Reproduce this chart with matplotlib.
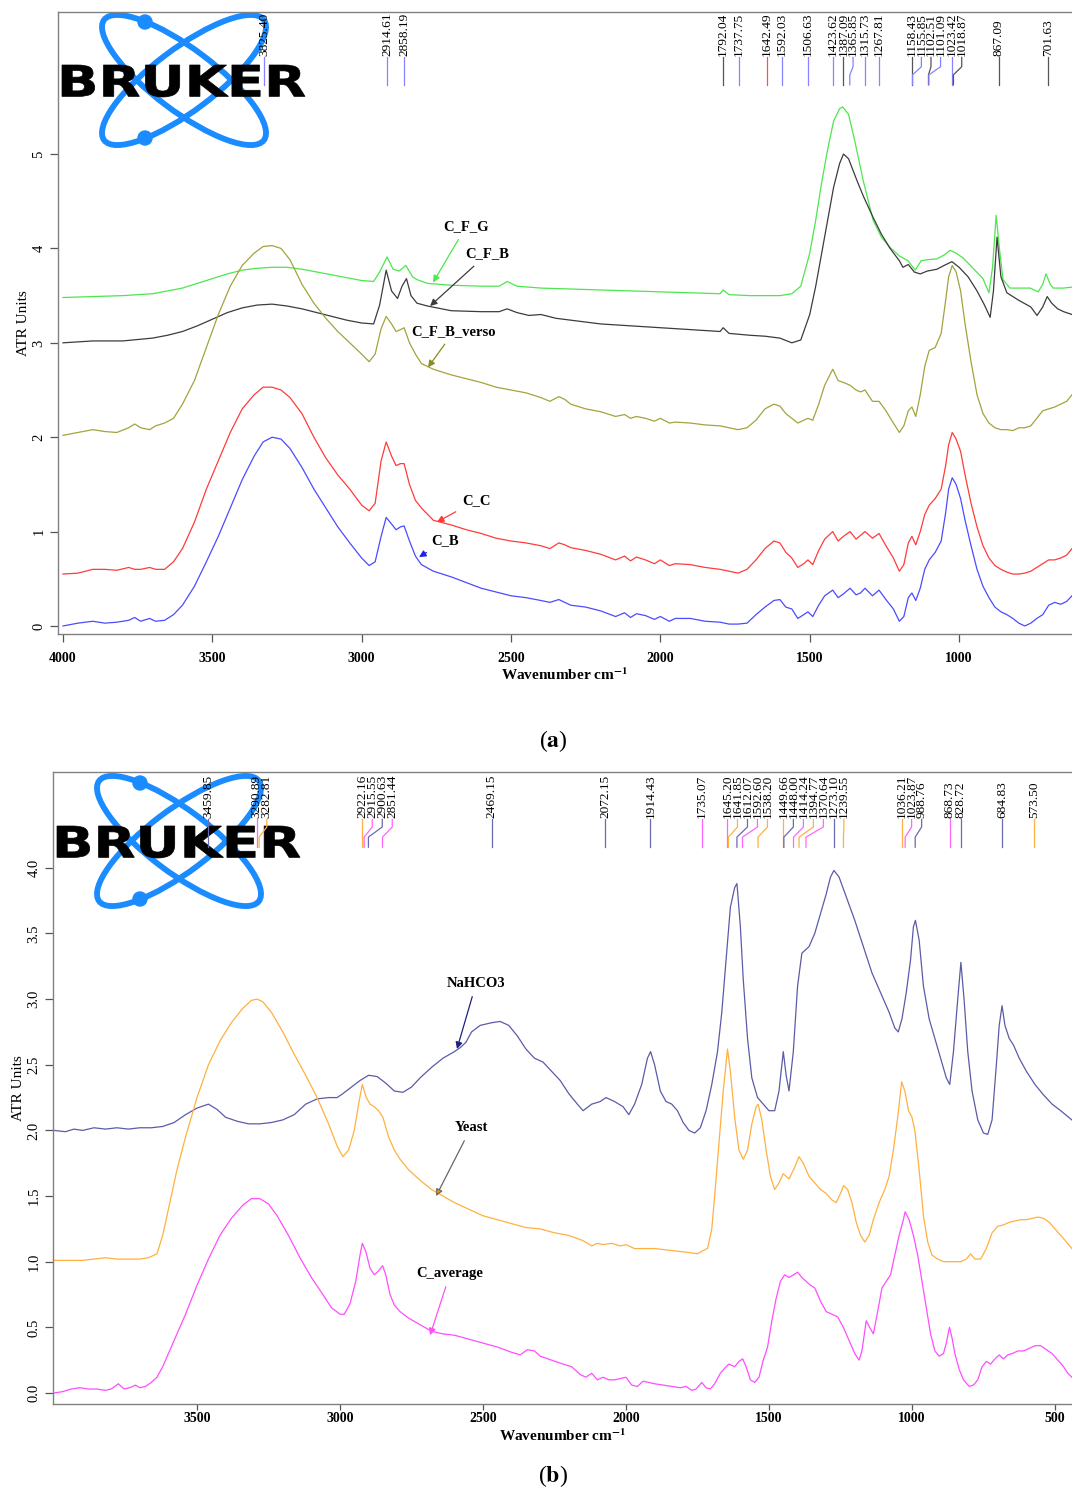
import numpy as np
import matplotlib
matplotlib.use("Agg")
import matplotlib.pyplot as plt
import matplotlib.transforms as mtransforms
from matplotlib.patches import Ellipse, Circle, PathPatch
from matplotlib.textpath import TextPath
from matplotlib.font_manager import FontProperties

plt.rcParams['font.family'] = ['Liberation Serif', 'DejaVu Serif']
plt.rcParams['mathtext.fontset'] = 'stix'

# ---------------- DATA : panel (a) ----------------
cb_w = [4000, 3950, 3900, 3860, 3820, 3780, 3760, 3740, 3710, 3690, 3660, 3630, 3600, 3560, 3520, 3480, 3440, 3400, 3360, 3330, 3300, 3270, 3240, 3200, 3160, 3120, 3080, 3040, 3000, 2975, 2955, 2935, 2918, 2900, 2885, 2870, 2858, 2840, 2820, 2800, 2760, 2700, 2650, 2600, 2550, 2500, 2450, 2400, 2370, 2340, 2320, 2300, 2250, 2200, 2150, 2120, 2100, 2080, 2050, 2020, 2000, 1970, 1950, 1900, 1850, 1800, 1770, 1740, 1710, 1680, 1650, 1620, 1600, 1580, 1560, 1540, 1520, 1506, 1490, 1470, 1450, 1423, 1405, 1387, 1365, 1345, 1330, 1315, 1290, 1268, 1245, 1220, 1200, 1185, 1170, 1158, 1145, 1130, 1115, 1100, 1080, 1060, 1045, 1035, 1023, 1010, 995, 980, 960, 940, 920, 900, 880, 860, 840, 820, 800, 780, 760, 740, 720, 700, 680, 660, 640, 622]
cb_v = [0.0, 0.03, 0.05, 0.03, 0.04, 0.06, 0.09, 0.05, 0.08, 0.05, 0.06, 0.12, 0.22, 0.42, 0.68, 0.95, 1.25, 1.55, 1.8, 1.95, 2.0, 1.98, 1.88, 1.68, 1.45, 1.25, 1.05, 0.88, 0.72, 0.64, 0.68, 0.95, 1.15, 1.08, 1.02, 1.05, 1.06, 0.9, 0.74, 0.65, 0.58, 0.52, 0.46, 0.4, 0.36, 0.32, 0.3, 0.27, 0.25, 0.28, 0.25, 0.22, 0.2, 0.16, 0.1, 0.14, 0.09, 0.13, 0.11, 0.07, 0.1, 0.05, 0.08, 0.08, 0.05, 0.04, 0.02, 0.02, 0.03, 0.12, 0.2, 0.27, 0.28, 0.2, 0.18, 0.08, 0.12, 0.15, 0.1, 0.22, 0.32, 0.38, 0.3, 0.34, 0.4, 0.33, 0.35, 0.4, 0.32, 0.38, 0.28, 0.18, 0.05, 0.1, 0.3, 0.35, 0.27, 0.4, 0.6, 0.7, 0.78, 0.9, 1.2, 1.45, 1.57, 1.5, 1.35, 1.12, 0.85, 0.6, 0.42, 0.3, 0.2, 0.15, 0.12, 0.08, 0.03, 0.0, 0.03, 0.08, 0.12, 0.22, 0.25, 0.23, 0.26, 0.32]

cc_w = cb_w
cc_v = [0.55, 0.56, 0.6, 0.6, 0.59, 0.62, 0.6, 0.6, 0.62, 0.6, 0.6, 0.68, 0.82, 1.1, 1.45, 1.75, 2.05, 2.3, 2.45, 2.53, 2.53, 2.5, 2.42, 2.25, 2.0, 1.78, 1.6, 1.45, 1.28, 1.22, 1.3, 1.75, 1.95, 1.8, 1.7, 1.72, 1.72, 1.5, 1.33, 1.25, 1.12, 1.07, 1.02, 0.98, 0.93, 0.9, 0.88, 0.85, 0.82, 0.88, 0.86, 0.83, 0.8, 0.76, 0.7, 0.74, 0.69, 0.73, 0.7, 0.66, 0.7, 0.64, 0.66, 0.65, 0.62, 0.6, 0.58, 0.56, 0.6, 0.7, 0.82, 0.9, 0.88, 0.78, 0.72, 0.62, 0.66, 0.7, 0.65, 0.8, 0.92, 1.0, 0.9, 0.95, 1.0, 0.92, 0.96, 1.0, 0.93, 0.98, 0.85, 0.72, 0.58, 0.65, 0.88, 0.95, 0.86, 1.0, 1.18, 1.28, 1.35, 1.45, 1.7, 1.92, 2.05, 1.98, 1.85, 1.6, 1.3, 1.05, 0.85, 0.72, 0.64, 0.6, 0.57, 0.55, 0.55, 0.56, 0.58, 0.62, 0.66, 0.7, 0.7, 0.72, 0.75, 0.82]

cfbv_w = cb_w
cfbv_v = [2.02, 2.05, 2.08, 2.06, 2.05, 2.1, 2.14, 2.1, 2.08, 2.12, 2.15, 2.2, 2.35, 2.6, 2.95, 3.3, 3.6, 3.82, 3.95, 4.02, 4.03, 4.0, 3.88, 3.62, 3.42, 3.26, 3.12, 3.0, 2.88, 2.8, 2.88, 3.15, 3.28, 3.2, 3.12, 3.14, 3.16, 3.0, 2.88, 2.78, 2.72, 2.66, 2.62, 2.58, 2.53, 2.5, 2.47, 2.42, 2.38, 2.43, 2.4, 2.35, 2.3, 2.27, 2.22, 2.24, 2.2, 2.22, 2.2, 2.17, 2.2, 2.15, 2.16, 2.15, 2.13, 2.12, 2.1, 2.08, 2.1, 2.18, 2.3, 2.35, 2.33, 2.25, 2.2, 2.15, 2.18, 2.2, 2.18, 2.35, 2.55, 2.72, 2.6, 2.58, 2.55, 2.5, 2.48, 2.5, 2.38, 2.38, 2.28, 2.15, 2.05, 2.12, 2.28, 2.32, 2.22, 2.45, 2.75, 2.92, 2.95, 3.1, 3.45, 3.7, 3.82, 3.75, 3.55, 3.2, 2.8, 2.45, 2.25, 2.15, 2.1, 2.08, 2.08, 2.07, 2.1, 2.1, 2.12, 2.2, 2.28, 2.3, 2.32, 2.35, 2.38, 2.45]

cfb_w = [4000, 3900, 3800, 3700, 3650, 3600, 3550, 3500, 3450, 3400, 3350, 3300, 3250, 3200, 3150, 3100, 3050, 3000, 2960, 2940, 2918, 2900, 2880, 2865, 2850, 2835, 2815, 2780, 2700, 2600, 2540, 2513, 2480, 2440, 2400, 2350, 2300, 2250, 2200, 2100, 2000, 1900, 1800, 1790, 1770, 1700, 1650, 1600, 1560, 1530, 1500, 1480, 1460, 1440, 1420, 1400, 1387, 1370, 1342, 1320, 1288, 1260, 1231, 1200, 1188, 1170, 1150, 1130, 1107, 1074, 1050, 1024, 1000, 970, 940, 915, 896, 885, 873, 860, 840, 800, 760, 739, 720, 705, 690, 670, 650, 622]
cfb_v = [3.0, 3.02, 3.02, 3.05, 3.08, 3.12, 3.18, 3.25, 3.32, 3.37, 3.4, 3.41, 3.39, 3.36, 3.32, 3.28, 3.24, 3.21, 3.2, 3.4, 3.77, 3.55, 3.47, 3.6, 3.68, 3.5, 3.42, 3.39, 3.34, 3.33, 3.33, 3.36, 3.32, 3.29, 3.3, 3.26, 3.24, 3.22, 3.2, 3.18, 3.16, 3.14, 3.12, 3.16, 3.1, 3.08, 3.07, 3.05, 3.0, 3.03, 3.3, 3.6, 3.95, 4.3, 4.65, 4.9, 5.0, 4.95, 4.72, 4.55, 4.33, 4.15, 4.0, 3.87, 3.8, 3.83, 3.75, 3.73, 3.76, 3.78, 3.82, 3.86, 3.8, 3.7, 3.55, 3.4, 3.27, 3.55, 4.12, 3.7, 3.53, 3.45, 3.38, 3.29, 3.38, 3.49, 3.42, 3.36, 3.33, 3.3]

cfg_w = [4000, 3900, 3800, 3700, 3650, 3600, 3550, 3500, 3450, 3400, 3350, 3300, 3250, 3200, 3150, 3100, 3050, 3000, 2960, 2940, 2915, 2895, 2875, 2852, 2830, 2815, 2780, 2700, 2600, 2540, 2513, 2480, 2400, 2300, 2200, 2100, 2000, 1900, 1800, 1790, 1770, 1700, 1650, 1600, 1560, 1530, 1500, 1480, 1460, 1440, 1420, 1400, 1390, 1370, 1350, 1321, 1288, 1260, 1231, 1200, 1171, 1147, 1127, 1107, 1074, 1050, 1030, 1010, 987, 950, 920, 900, 888, 876, 865, 853, 830, 800, 762, 735, 720, 709, 695, 685, 650, 622]
cfg_v = [3.48, 3.49, 3.5, 3.52, 3.55, 3.58, 3.63, 3.68, 3.73, 3.77, 3.79, 3.8, 3.8, 3.78, 3.75, 3.72, 3.69, 3.66, 3.65, 3.75, 3.91, 3.78, 3.76, 3.82, 3.7, 3.67, 3.63, 3.61, 3.6, 3.6, 3.65, 3.6, 3.58, 3.57, 3.56, 3.55, 3.54, 3.53, 3.52, 3.56, 3.51, 3.5, 3.5, 3.5, 3.52, 3.6, 3.95, 4.3, 4.7, 5.05, 5.35, 5.48, 5.5, 5.42, 5.15, 4.72, 4.3, 4.12, 4.01, 3.92, 3.87, 3.77, 3.87, 3.88, 3.89, 3.93, 3.98, 3.95, 3.9, 3.78, 3.68, 3.53, 3.8, 4.35, 4.0, 3.67, 3.58, 3.58, 3.58, 3.54, 3.62, 3.73, 3.62, 3.58, 3.58, 3.59]

# peaks picked in panel (a): position, printed label, and the series each belongs to
pa_peaks = [3325.40, 2914.61, 2858.19, 1792.04, 1737.75, 1642.49, 1592.03, 1506.63, 1423.62, 1387.09, 1365.85, 1315.73, 1267.81, 1158.43, 1155.85, 1102.51, 1101.09, 1023.42, 1018.87, 867.09, 701.63]
pa_peak_labels = ['3825.40', '2914.61', '2858.19', '1792.04', '1737.75', '1642.49', '1592.03', '1506.63', '1423.62', '1387.09', '1365.85', '1315.73', '1267.81', '1158.43', '1155.85', '1102.51', '1101.09', '1023.42', '1018.87', '867.09', '701.63']
pa_peak_series = ['C_B', 'C_B', 'C_B', 'C_F_B', 'C_B', 'C_C', 'C_B', 'C_B', 'C_B', 'C_F_B', 'C_B', 'C_B', 'C_B', 'C_F_B', 'C_B', 'C_F_B', 'C_B', 'C_B', 'C_F_B', 'C_F_B', 'C_F_B']

# ---------------- DATA : panel (b) ----------------
na_w = [4000, 3960, 3930, 3900, 3860, 3820, 3780, 3740, 3700, 3660, 3620, 3580, 3540, 3500, 3460, 3430, 3400, 3360, 3320, 3280, 3240, 3200, 3160, 3120, 3080, 3040, 3010, 2990, 2960, 2930, 2900, 2870, 2840, 2810, 2780, 2750, 2720, 2680, 2640, 2600, 2580, 2560, 2540, 2510, 2470, 2440, 2410, 2380, 2350, 2320, 2290, 2260, 2230, 2200, 2170, 2150, 2120, 2090, 2070, 2040, 2010, 1990, 1970, 1945, 1925, 1914, 1900, 1880, 1860, 1840, 1820, 1800, 1780, 1760, 1740, 1720, 1700, 1680, 1665, 1650, 1635, 1620, 1612, 1600, 1590, 1575, 1560, 1540, 1520, 1500, 1480, 1465, 1450, 1440, 1430, 1415, 1400, 1385, 1360, 1340, 1320, 1300, 1285, 1273, 1255, 1230, 1200, 1170, 1140, 1110, 1080, 1060, 1048, 1035, 1020, 1005, 995, 988, 975, 960, 940, 920, 900, 880, 868, 855, 840, 829, 818, 805, 790, 770, 750, 735, 720, 705, 695, 685, 675, 660, 645, 625, 600, 570, 540, 510, 480, 441]
na_v = [2.0, 1.99, 2.01, 2.0, 2.02, 2.01, 2.02, 2.01, 2.02, 2.02, 2.03, 2.06, 2.12, 2.17, 2.2, 2.16, 2.1, 2.07, 2.05, 2.05, 2.06, 2.08, 2.12, 2.2, 2.24, 2.25, 2.25, 2.28, 2.33, 2.38, 2.42, 2.41, 2.36, 2.3, 2.29, 2.33, 2.4, 2.48, 2.55, 2.6, 2.63, 2.67, 2.75, 2.8, 2.82, 2.83, 2.8, 2.72, 2.62, 2.55, 2.52, 2.45, 2.38, 2.28, 2.2, 2.15, 2.2, 2.22, 2.25, 2.22, 2.18, 2.12, 2.2, 2.35, 2.55, 2.6, 2.5, 2.3, 2.22, 2.2, 2.15, 2.06, 2.0, 1.98, 2.02, 2.15, 2.35, 2.6, 2.9, 3.3, 3.7, 3.85, 3.88, 3.55, 3.15, 2.7, 2.4, 2.25, 2.2, 2.15, 2.15, 2.3, 2.6, 2.42, 2.3, 2.6, 3.1, 3.35, 3.4, 3.5, 3.65, 3.8, 3.93, 3.98, 3.93, 3.78, 3.6, 3.4, 3.2, 3.05, 2.9, 2.78, 2.75, 2.85, 3.05, 3.3, 3.55, 3.6, 3.45, 3.1, 2.85, 2.7, 2.55, 2.4, 2.35, 2.6, 3.0, 3.28, 3.0, 2.6, 2.3, 2.08, 1.98, 1.97, 2.08, 2.5, 2.8, 2.95, 2.8, 2.7, 2.65, 2.55, 2.45, 2.35, 2.27, 2.2, 2.15, 2.08]

ye_w = [4000, 3950, 3900, 3860, 3820, 3780, 3740, 3700, 3670, 3640, 3620, 3600, 3570, 3540, 3500, 3460, 3420, 3380, 3340, 3310, 3290, 3270, 3240, 3200, 3160, 3120, 3080, 3040, 3010, 2990, 2970, 2950, 2935, 2922, 2908, 2895, 2880, 2865, 2850, 2830, 2810, 2790, 2760, 2720, 2680, 2640, 2600, 2550, 2500, 2450, 2400, 2350, 2300, 2250, 2200, 2150, 2120, 2100, 2080, 2050, 2020, 2000, 1970, 1940, 1900, 1860, 1820, 1780, 1750, 1735, 1715, 1700, 1690, 1675, 1660, 1645, 1635, 1620, 1605, 1590, 1575, 1560, 1545, 1538, 1525, 1510, 1495, 1480, 1465, 1450, 1430, 1410, 1395, 1380, 1360, 1340, 1320, 1300, 1280, 1265, 1250, 1239, 1225, 1210, 1195, 1180, 1165, 1150, 1135, 1115, 1095, 1080, 1065, 1050, 1036, 1025, 1012, 1000, 990, 975, 960, 945, 930, 910, 890, 860, 830, 810, 795, 780, 760, 740, 720, 700, 680, 660, 640, 620, 600, 580, 560, 540, 520, 500, 480, 460, 441]
ye_v = [1.01, 1.01, 1.01, 1.02, 1.03, 1.02, 1.02, 1.02, 1.03, 1.06, 1.2, 1.4, 1.7, 1.95, 2.25, 2.5, 2.68, 2.82, 2.93, 2.99, 3.0, 2.98, 2.9, 2.75, 2.58, 2.42, 2.25, 2.05, 1.88, 1.8, 1.85, 2.0, 2.2, 2.35, 2.25, 2.2, 2.18, 2.15, 2.1, 1.95, 1.85, 1.78, 1.7, 1.62, 1.55, 1.5, 1.45, 1.4, 1.35, 1.32, 1.29, 1.26, 1.25, 1.22, 1.2, 1.16, 1.12, 1.14, 1.13, 1.14, 1.12, 1.13, 1.1, 1.1, 1.1, 1.09, 1.08, 1.07, 1.06, 1.08, 1.1, 1.25, 1.5, 1.9, 2.3, 2.62, 2.45, 2.1, 1.85, 1.78, 1.85, 2.05, 2.18, 2.2, 2.08, 1.85, 1.65, 1.55, 1.6, 1.67, 1.63, 1.72, 1.8, 1.75, 1.65, 1.6, 1.55, 1.52, 1.47, 1.45, 1.52, 1.58, 1.55, 1.45, 1.3, 1.2, 1.15, 1.2, 1.32, 1.45, 1.55, 1.65, 1.85, 2.1, 2.37, 2.3, 2.15, 2.1, 2.0, 1.7, 1.35, 1.15, 1.05, 1.02, 1.0, 1.0, 1.0, 1.02, 1.06, 1.02, 1.02, 1.1, 1.22, 1.27, 1.28, 1.3, 1.31, 1.32, 1.32, 1.33, 1.34, 1.33, 1.3, 1.25, 1.2, 1.15, 1.1]

ca_w = [4000, 3970, 3940, 3910, 3880, 3850, 3820, 3800, 3775, 3755, 3735, 3715, 3700, 3680, 3660, 3640, 3620, 3600, 3570, 3540, 3500, 3460, 3420, 3380, 3340, 3310, 3280, 3250, 3220, 3180, 3140, 3100, 3060, 3030, 3000, 2985, 2965, 2945, 2930, 2922, 2910, 2895, 2880, 2865, 2851, 2840, 2825, 2810, 2790, 2760, 2720, 2680, 2640, 2600, 2550, 2500, 2450, 2400, 2370, 2345, 2320, 2300, 2260, 2220, 2190, 2160, 2140, 2120, 2100, 2080, 2060, 2040, 2020, 2000, 1980, 1960, 1940, 1920, 1900, 1870, 1840, 1810, 1790, 1770, 1755, 1735, 1720, 1705, 1690, 1670, 1650, 1640, 1620, 1605, 1592, 1580, 1565, 1550, 1535, 1520, 1505, 1490, 1475, 1460, 1445, 1430, 1414, 1400, 1385, 1370, 1355, 1340, 1320, 1300, 1280, 1260, 1240, 1220, 1200, 1185, 1175, 1160, 1148, 1135, 1120, 1105, 1090, 1075, 1060, 1045, 1030, 1024, 1010, 995, 980, 965, 950, 935, 920, 905, 890, 880, 869, 860, 850, 835, 820, 800, 785, 770, 755, 740, 725, 710, 695, 680, 665, 650, 630, 610, 590, 570, 550, 530, 510, 490, 470, 455, 441]
ca_v = [0.0, 0.01, 0.03, 0.04, 0.03, 0.03, 0.02, 0.03, 0.07, 0.03, 0.04, 0.06, 0.04, 0.05, 0.08, 0.12, 0.2, 0.3, 0.45, 0.6, 0.82, 1.02, 1.2, 1.33, 1.43, 1.48, 1.48, 1.44, 1.35, 1.2, 1.03, 0.88, 0.75, 0.65, 0.6, 0.6, 0.68, 0.85, 1.05, 1.14, 1.08, 0.95, 0.9, 0.93, 0.97, 0.9, 0.75, 0.67, 0.62, 0.57, 0.52, 0.47, 0.45, 0.44, 0.41, 0.38, 0.35, 0.31, 0.29, 0.33, 0.32, 0.28, 0.25, 0.22, 0.2, 0.14, 0.12, 0.15, 0.1, 0.12, 0.1, 0.1, 0.11, 0.12, 0.06, 0.05, 0.09, 0.08, 0.07, 0.06, 0.05, 0.04, 0.05, 0.02, 0.03, 0.08, 0.04, 0.03, 0.07, 0.15, 0.2, 0.22, 0.2, 0.24, 0.26, 0.2, 0.1, 0.08, 0.12, 0.25, 0.35, 0.55, 0.72, 0.85, 0.9, 0.88, 0.9, 0.92, 0.88, 0.85, 0.82, 0.8, 0.7, 0.62, 0.6, 0.58, 0.5, 0.4, 0.3, 0.25, 0.32, 0.55, 0.5, 0.45, 0.62, 0.8, 0.85, 0.9, 1.05, 1.2, 1.32, 1.38, 1.32, 1.2, 1.05, 0.85, 0.65, 0.45, 0.32, 0.28, 0.3, 0.38, 0.5, 0.42, 0.3, 0.18, 0.1, 0.05, 0.06, 0.1, 0.2, 0.24, 0.22, 0.26, 0.29, 0.26, 0.29, 0.3, 0.32, 0.32, 0.34, 0.36, 0.36, 0.33, 0.3, 0.25, 0.2, 0.15, 0.12]

pb_peaks = [3459.85, 3290.89, 3282.81, 2922.16, 2915.55, 2900.63, 2851.44, 2469.15, 2072.15, 1914.43, 1735.07, 1645.20, 1641.85, 1612.07, 1592.60, 1538.20, 1449.66, 1448.00, 1414.24, 1394.77, 1370.64, 1273.10, 1239.55, 1036.21, 1023.87, 988.76, 868.73, 828.72, 684.83, 573.50]
pb_peak_labels = [f"{p:.2f}" for p in pb_peaks]
pb_peak_series = ['NaHCO3', 'C_average', 'Yeast', 'Yeast', 'C_average', 'NaHCO3', 'C_average', 'NaHCO3', 'NaHCO3', 'NaHCO3', 'C_average', 'C_average', 'Yeast', 'NaHCO3', 'C_average', 'Yeast', 'Yeast', 'NaHCO3', 'C_average', 'Yeast', 'C_average', 'NaHCO3', 'Yeast', 'Yeast', 'C_average', 'NaHCO3', 'C_average', 'NaHCO3', 'NaHCO3', 'Yeast']

a_xticks = [4000, 3500, 3000, 2500, 2000, 1500, 1000]
a_yticks = [0, 1, 2, 3, 4, 5]
b_xticks = [3500, 3000, 2500, 2000, 1500, 1000, 500]
b_yticks = [0.0, 0.5, 1.0, 1.5, 2.0, 2.5, 3.0, 3.5, 4.0]

colors = {'C_F_G': '#4de64d', 'C_F_B': '#3c3c3c', 'C_F_B_verso': '#a3a33d',
          'C_C': '#ff3b3b', 'C_B': '#4b4bff',
          'NaHCO3': '#5b5ba8', 'Yeast': '#ffb040', 'C_average': '#ff4dff'}
peak_line_colors = {'C_F_B': '#555555', 'C_C': '#ff5050', 'C_B': '#8585ff',
                    'NaHCO3': '#6a6ab0', 'Yeast': '#ffb040', 'C_average': '#ff66ff'}
LOGO_BLUE = '#1a8cff'

# ---------------- FIGURE ----------------
FW, FH = 1072, 1493
fig = plt.figure(figsize=(FW / 100, FH / 100), dpi=100)


def px_rect(left, top, right, bottom):
    return [left / FW, 1 - bottom / FH, (right - left) / FW, (bottom - top) / FH]


def draw_logo(left_px, top_px):
    W, H = 252, 140
    lax = fig.add_axes(px_rect(left_px, top_px, left_px + W, top_px + H), zorder=0)
    lax.set_xlim(0, W)
    lax.set_ylim(H, 0)
    lax.axis('off')
    for ang in (37, -37):
        lax.add_patch(Ellipse((126, 70), 200, 62, angle=ang, fill=False,
                              ec=LOGO_BLUE, lw=4.2))
    lax.add_patch(Circle((87, 12), 7, color=LOGO_BLUE))
    lax.add_patch(Circle((87, 128), 7, color=LOGO_BLUE))
    tp = TextPath((0, 0), "BRUKER", prop=FontProperties(family='DejaVu Sans', weight='bold'))
    ext = tp.get_extents()
    sx = 243 / ext.width
    sy = 32 / ext.height
    tr = mtransforms.Affine2D().translate(-ext.x0, -ext.y0).scale(sx, -sy).translate(4, 87)
    lax.add_patch(PathPatch(tr.transform_path(tp), fc='black', ec='black', lw=0.5))


def style_axes(ax, xticks, yticks, yfmt, ylabelpad, xlabelpad, xpad, xlen):
    for s in ('top', 'left', 'bottom'):
        ax.spines[s].set_color('#808080')
        ax.spines[s].set_linewidth(1.0)
    ax.spines['right'].set_visible(False)
    ax.patch.set_facecolor('none')
    ax.set_xticks(xticks)
    ax.set_xticklabels([str(t) for t in xticks], fontweight='bold', fontsize=10)
    ax.set_yticks(yticks)
    ax.set_yticklabels([yfmt.format(t) for t in yticks], fontsize=10.5, rotation=90,
                       va='center')
    ax.tick_params(axis='both', direction='out', color='#555555', width=0.9)
    ax.tick_params(axis='x', pad=xpad, length=xlen)
    ax.tick_params(axis='y', pad=3, length=6)
    ax.set_ylabel('ATR Units', fontsize=11, labelpad=ylabelpad)
    ax.set_xlabel(r'Wavenumber cm$^{\mathbf{-1}}$', fontsize=11, fontweight='bold',
                  labelpad=xlabelpad)


def draw_peaks(ax, peaks, texts, series, sep_px, ys):
    pts = np.column_stack([peaks, np.zeros(len(peaks))])
    xs = ax.transData.transform(pts)[:, 0]
    order = np.argsort(xs)
    lab = xs.copy()
    prev = -1e9
    for i in order:
        lab[i] = max(xs[i], prev + sep_px)
        prev = lab[i]
    lab_d = ax.transData.inverted().transform(np.column_stack([lab, np.zeros(len(lab))]))[:, 0]
    trans = mtransforms.blended_transform_factory(ax.transData, ax.transAxes)
    for p, lx, t, s in zip(peaks, lab_d, texts, series):
        ax.plot([lx, lx, p, p], [ys[0], ys[1], ys[2], ys[3]], transform=trans,
                color=peak_line_colors[s], lw=0.9, clip_on=False)
        ax.text(lx, ys[0] + 0.003, t, transform=trans, rotation=90,
                ha='center', va='bottom', fontsize=9.6, color='black')


def label(ax, text, xy, xytext, color, face=None):
    ax.annotate(text, xy=xy, xytext=xytext, ha='center', va='center',
                fontsize=10.5, fontweight='bold', color='black',
                arrowprops=dict(arrowstyle='-|>', edgecolor=color,
                                facecolor=face if face else color,
                                lw=0.9, mutation_scale=10, shrinkA=3, shrinkB=0))


# ----- panel (a) -----
draw_logo(58, 10)
axa = fig.add_axes(px_rect(58, 12, 1072, 634), zorder=1)
axa.set_xlim(4016.7, 622)
axa.set_ylim(-0.085, 6.505)
axa.plot(cfg_w, cfg_v, color=colors['C_F_G'], lw=0.9)
axa.plot(cfb_w, cfb_v, color=colors['C_F_B'], lw=0.9)
axa.plot(cfbv_w, cfbv_v, color=colors['C_F_B_verso'], lw=0.9)
axa.plot(cc_w, cc_v, color=colors['C_C'], lw=0.9)
axa.plot(cb_w, cb_v, color=colors['C_B'], lw=0.9)
style_axes(axa, a_xticks, a_yticks, '{:d}', 1.5, 1, 7, 6)
draw_peaks(axa, pa_peaks, pa_peak_labels, pa_peak_series, 9.6, (0.927, 0.912, 0.899, 0.883))
label(axa, 'C_F_G', (2761, 3.64), (2651, 4.23), colors['C_F_G'])
label(axa, 'C_F_B', (2771, 3.39), (2580, 3.94), colors['C_F_B'])
label(axa, 'C_F_B_verso', (2778, 2.74), (2691, 3.12), '#8a8a20')
label(axa, 'C_C', (2748, 1.10), (2617, 1.33), colors['C_C'])
label(axa, 'C_B', (2808, 0.73), (2721, 0.90), '#2020ee')
fig.text(553 / FW, 1 - 741 / FH, r'($\mathbf{a}$)', ha='center', va='center', fontsize=17)

# ----- panel (b) -----
draw_logo(53, 771)
axb = fig.add_axes(px_rect(53, 772, 1072, 1404), zorder=1)
axb.set_xlim(4003.5, 440.5)
axb.set_ylim(-0.084, 4.73)
axb.plot(na_w, na_v, color=colors['NaHCO3'], lw=0.9)
axb.plot(ye_w, ye_v, color=colors['Yeast'], lw=0.9)
axb.plot(ca_w, ca_v, color=colors['C_average'], lw=0.9)
style_axes(axb, b_xticks, b_yticks, '{:.1f}', 2, 2, 1.5, 4)
draw_peaks(axb, pb_peaks, pb_peak_labels, pb_peak_series, 10.0, (0.925, 0.913, 0.897, 0.881))
label(axb, 'NaHCO3', (2591, 2.62), (2524, 3.12), '#202080')
label(axb, 'Yeast', (2664, 1.50), (2542, 2.02), '#666666', face='#ff9900')
label(axb, 'C_average', (2685, 0.44), (2615, 0.91), colors['C_average'])
fig.text(553 / FW, 1 - 1476 / FH, r'($\mathbf{b}$)', ha='center', va='center', fontsize=17)

fig.savefig('out.png', dpi=100)
